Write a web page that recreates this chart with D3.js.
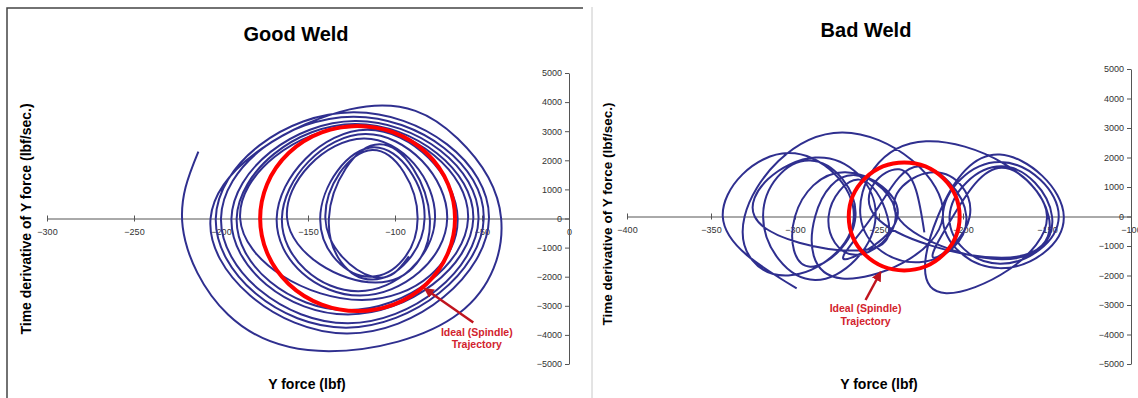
<!DOCTYPE html>
<html>
<head>
<meta charset="utf-8">
<script src="https://cdn.jsdelivr.net/npm/d3@7/dist/d3.min.js"></script>
<style>
  body { margin: 0; background: #fff; }
  svg { display: block; font-family: Arial, "Liberation Sans", sans-serif; }
</style>
</head>
<body>
<svg id="chart" width="1138" height="398"></svg>
<script>
// tick labels
const yTicks = [-5000, -4000, -3000, -2000, -1000, 0, 1000, 2000, 3000, 4000, 5000];
const goodXTicks = [-300, -250, -200, -150, -100, -50, 0];
const badXTicks = [-400, -350, -300, -250, -200, -150, -100];

// measured trajectory, [Y force (lbf), dF/dt (lbf/sec)], read loop by loop: left, top, right, bottom
const goodPath = [
  [-92, -1300], [-113, -2000],
  [-140, 0], [-113, 2350], [-87, 0], [-114, -2000],
  [-143, 0], [-112, 2450], [-83, 0], [-113, -2100],
  [-138, 0], [-109, 2550], [-80, 0], [-111, -2200],
  [-162, 0], [-118, 2750], [-77, 0], [-121, -2500],
  [-165, 0], [-117, 2900], [-70, 0], [-120, -2650],
  [-168, 0], [-116, 3050], [-64, 0], [-119, -2800],
  [-189, 0], [-123, 3150], [-58, 0], [-127, -3150],
  [-191, 0], [-123, 3250], [-55, 0], [-127, -3300],
  [-194, 0], [-123, 3350], [-52, 0], [-127, -3600],
  [-200, 0], [-124, 3500], [-49, 0], [-128, -3750],
  [-203, 0], [-124, 3650], [-46, 0], [-128, -3950],
  [-206, 0], [-126, 3750], [-64, 2750], [-39, 0], [-63, -3250],
  [-138, -4560], [-196, -3300], [-222, -300], [-213, 2300]
];

const badPath = [
  [-299, -2440],
  [-343, 0], [-304, 2150], [-265, 0], [-304, -2000],
  [-330, 0], [-272, 2850], [-212, 0], [-272, -2100],
  [-288, 0], [-264, 1400], [-240, 0], [-264, -1300],
  [-280, 0], [-262, 1250], [-245, 0], [-262, -1150],
  [-324, 0], [-288, 2000], [-252, 0], [-288, -2150],
  [-319, 0], [-291, 1900], [-264, 0], [-291, -1700],
  [-300, 0], [-270, 1500], [-239, 0], [-270, -1450],
  [-254, 0], [-226, 1700], [-198, 0], [-226, -1550],
  [-261, 0], [-222, 2550], [-150, 0], [-210, -2600],
  [-215, 0], [-178, 2100], [-140, 0], [-178, -1750],
  [-212, 0], [-178, 1850], [-143, 0], [-178, -1600],
  [-208, 0], [-177, 1700], [-147, 0], [-177, -1450],
  [-239, 0], [-217, 1500], [-196, 0], [-217, -1400],
  [-206, 0], [-177, 1650], [-149, 0], [-177, -1400],
  [-252, 0], [-238, 1600], [-223, -540]
];

// ideal spindle trajectory: centre force, radius in force, radius in dF/dt
const goodIdeal = [-121.5, 56, 3180];
const badIdeal = [-235, 33, 1830];

const panels = [
  {
    title: "Good Weld", titleX: 296, titleY: 41,
    path: goodPath, ideal: goodIdeal, xTicks: goodXTicks,
    xDomain: [-300, 0], xRange: [47, 569], yRange: [364, 73],
    yTitleX: 31, yTitleY: 219, yTitleSize: 14, xTitleX: 307,
    arrow: [[-83, -2405], [-55, -3574]], note: [-53, -4021, -4467]
  },
  {
    title: "Bad Weld", titleX: 866, titleY: 37,
    path: badPath, ideal: badIdeal, xTicks: badXTicks,
    xDomain: [-400, -100], xRange: [627, 1131], yRange: [364, 69],
    yTitleX: 612, yTitleY: 214, yTitleSize: 13.5, xTitleX: 879,
    arrow: [[-249, -1881], [-258, -2830]], note: [-258, -3237, -3678]
  }
];

const svg = d3.select("#chart");
svg.append("rect").attr("width", 1138).attr("height", 398).attr("fill", "#fff");

// frame of the left picture and divider of the right one
svg.append("path").attr("d", "M7,398V8H583").attr("fill", "none").attr("stroke", "#444").attr("stroke-width", 1.5);
svg.append("line").attr("x1", 592).attr("x2", 592).attr("y1", 7).attr("y2", 398).attr("stroke", "#c8c8c8");

svg.append("defs").append("marker")
  .attr("id", "head").attr("viewBox", "0 0 10 10").attr("refX", 9).attr("refY", 5)
  .attr("markerWidth", 4).attr("markerHeight", 4).attr("orient", "auto-start-reverse")
  .append("path").attr("d", "M0,0L10,5L0,10z").attr("fill", "#c0141e");

const fmt = d3.format("d");

panels.forEach(p => {
  const x = d3.scaleLinear().domain(p.xDomain).range(p.xRange);
  const y = d3.scaleLinear().domain([-5000, 5000]).range(p.yRange);
  const g = svg.append("g");

  // x axis through dF/dt = 0
  const xa = g.append("g")
    .attr("transform", "translate(0," + y(0) + ")")
    .call(d3.axisBottom(x).tickValues(p.xTicks).tickFormat(fmt).tickSizeInner(3).tickSizeOuter(0).tickPadding(7));
  xa.selectAll(".tick line").attr("y1", -3);

  // y axis at the right end
  const ya = g.append("g")
    .attr("transform", "translate(" + x(p.xDomain[1]) + ",0)")
    .call(d3.axisLeft(y).tickValues(yTicks).tickFormat(fmt).tickSizeInner(4).tickSizeOuter(0).tickPadding(3));

  [xa, ya].forEach(a => {
    a.select(".domain").attr("stroke", "#555");
    a.selectAll(".tick line").attr("stroke", "#555");
    a.selectAll("text").attr("fill", "#333").style("font-size", "9px").style("font-family", "Arial, 'Liberation Sans', sans-serif");
  });

  // measured trajectory
  const line = d3.line().x(d => x(d[0])).y(d => y(d[1])).curve(d3.curveNatural);
  g.append("path").datum(p.path)
    .attr("d", line)
    .attr("fill", "none").attr("stroke", "#2f2f8f").attr("stroke-width", 2);

  // ideal trajectory
  g.append("ellipse")
    .attr("cx", x(p.ideal[0])).attr("cy", y(0))
    .attr("rx", x(p.ideal[0] + p.ideal[1]) - x(p.ideal[0]))
    .attr("ry", y(0) - y(p.ideal[2]))
    .attr("fill", "none").attr("stroke", "#ff0000").attr("stroke-width", 4);

  // annotation
  g.append("line")
    .attr("x1", x(p.arrow[1][0])).attr("y1", y(p.arrow[1][1]))
    .attr("x2", x(p.arrow[0][0])).attr("y2", y(p.arrow[0][1]))
    .attr("stroke", "#c0141e").attr("stroke-width", 2.5).attr("marker-end", "url(#head)");
  ["Ideal (Spindle)", "Trajectory"].forEach((t, i) => {
    g.append("text")
      .attr("x", x(p.note[0])).attr("y", y(p.note[i + 1]))
      .attr("text-anchor", "middle").attr("fill", "#d2232d")
      .style("font-size", "10.5px").style("font-weight", "bold")
      .text(t);
  });

  // titles
  g.append("text").attr("x", p.titleX).attr("y", p.titleY)
    .attr("text-anchor", "middle").style("font-size", "20px").style("font-weight", "bold")
    .text(p.title);
  g.append("text").attr("transform", "translate(" + p.yTitleX + "," + p.yTitleY + ") rotate(-90)")
    .attr("text-anchor", "middle").style("font-size", p.yTitleSize + "px").style("font-weight", "bold")
    .text("Time derivative of Y force (lbf/sec.)");
  g.append("text").attr("x", p.xTitleX).attr("y", 389)
    .attr("text-anchor", "middle").style("font-size", "14px").style("font-weight", "bold")
    .text("Y force (lbf)");
});
</script>
</body>
</html>
